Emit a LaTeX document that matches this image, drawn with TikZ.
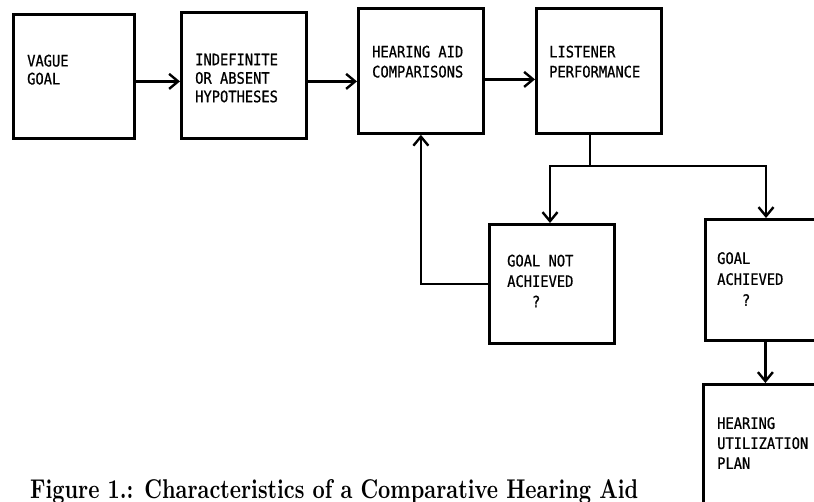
\documentclass[tikz,border=0pt]{standalone}
\usepackage{fontspec}
\usepackage{graphicx}
\usetikzlibrary{arrows.meta}
\newfontfamily\tw[FakeStretch=0.87,FakeBold=0.8]{DejaVu Sans Mono}
\tikzset{
  box/.style={draw, line width=2.8pt, rectangle, inner sep=0pt, anchor=north west},
  arr/.style={line width=2.8pt, -{Straight Barb[length=9pt,width=15pt,line width=2.4pt]}},
  conn/.style={line width=2.8pt},
  tx/.style={anchor=north west, inner sep=0pt, align=left, font=\tw\fontsize{15.8}{20}\selectfont},
}
\begin{document}
\begin{tikzpicture}[x=1pt,y=-1pt]
\useasboundingbox (0,0) rectangle (814,502);
\clip (0,0) rectangle (814,502);
\fill[white] (0,0) rectangle (814,502);
% boxes
\node[box, minimum width=121pt, minimum height=124pt] (B1) at (12,13) {};
\node[box, minimum width=125pt, minimum height=126pt] (B2) at (180,11) {};
\node[box, minimum width=125pt, minimum height=125pt] (B3) at (357,7) {};
\node[box, minimum width=125pt, minimum height=125pt] (B4) at (535,7) {};
\node[box, minimum width=125pt, minimum height=119pt] (B5) at (488,223) {};
\node[box, minimum width=124pt, minimum height=121pt] (B6) at (704,218) {};
\node[box, minimum width=124pt, minimum height=140pt] (B7) at (702,383) {};
% texts
\node[tx, font=\tw\fontsize{15.8}{18}\selectfont] (T1) at (27,54.5) {VAGUE\\GOAL};
\node[tx, font=\tw\fontsize{15.8}{18.5}\selectfont] (T2) at (195,53.5) {INDEFINITE\\OR ABSENT\\HYPOTHESES};
\node[tx] (T3) at (372,45.5) {HEARING AID\\COMPARISONS};
\node[tx] (T4) at (549,45.5) {LISTENER\\PERFORMANCE};
\node[tx, font=\tw\fontsize{15.8}{20.5}\selectfont] (T5) at (507,254.5) {GOAL NOT\\ACHIEVED\\\phantom{ACH}?};
\node[tx, font=\tw\fontsize{15.8}{21}\selectfont] (T6) at (717,252) {GOAL\\ACHIEVED\\\phantom{ACH}?};
\node[tx] (T7) at (717,417) {HEARING\\UTILIZATION\\PLAN};
% connectors
\draw[arr] ([yshift=-5pt]B1.east) -- ([yshift=-5pt]B1.east -| B2.west);
\draw[arr] ([yshift=-6pt]B2.east) -- ([yshift=-6pt]B2.east -| B3.west);
\draw[arr] ([yshift=-8.5pt]B3.east) -- ([yshift=-8.5pt]B3.east -| B4.west);
\coordinate (J) at (590,166);
\coordinate (JL) at (550,166);
\coordinate (JR) at (766,166);
\draw[conn] (J |- B4.south) -- (J);
\draw[conn, line cap=rect] (JL) -- (JR);
\draw[arr] (JL) -- (JL |- B5.north);
\draw[arr] (JR) -- (JR |- B6.north);
\coordinate (FB) at (419,284);
\draw[arr] (B5.west |- FB) -- (B3.south |- FB) -- (B3.south);
\draw[arr] ([xshift=-2pt]B6.south) -- ([xshift=-2pt]B6.south |- B7.north);
% caption
\node[anchor=base west, inner sep=0pt] (cap) at (30,498) {\resizebox{608pt}{19pt}{\bfseries Figure 1.: Characteristics of a Comparative Hearing Aid}};
\end{tikzpicture}
\end{document}
